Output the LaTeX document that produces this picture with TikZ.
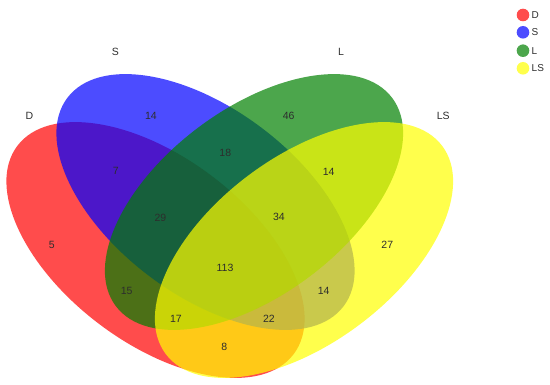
\documentclass[tikz,border=0pt]{standalone}
\usepackage{fontspec}
\setmainfont{Liberation Sans}
\definecolor{vred}{RGB}{255,0,0}
\definecolor{vblue}{RGB}{0,0,255}
\definecolor{vgreen}{RGB}{0,128,0}
\definecolor{vyellow}{RGB}{255,255,0}
\definecolor{txt}{RGB}{45,45,45}
\tikzset{
  setfill/.style={fill opacity=0.7},
  num/.style={text=txt, font=\fontsize{10.5}{12}\selectfont, inner sep=0pt},
  setlabel/.style={text=txt, font=\fontsize{10.5}{12}\selectfont, inner sep=0pt},
  legdot/.style={circle, minimum size=12.6pt, inner sep=0pt, fill opacity=0.7},
  legtext/.style={text=txt, font=\fontsize{10}{12}\selectfont, inner sep=0pt, anchor=west}
}
\begin{document}
\begin{tikzpicture}[x=1pt,y=-1pt]
\useasboundingbox (0,0) rectangle (550,385);
% ellipses
\fill[vred, setfill, rotate around={-37:(155.5,250)}] (155.5,250) ellipse [x radius=173pt, y radius=93pt];
\fill[vblue, setfill, rotate around={-37:(205.5,202)}] (205.5,202) ellipse [x radius=173pt, y radius=93pt];
\fill[vgreen, setfill, rotate around={37:(254,202)}] (254,202) ellipse [x radius=173pt, y radius=93pt];
\fill[vyellow, setfill, rotate around={37:(304,250)}] (304,250) ellipse [x radius=173pt, y radius=93pt];
% set labels
\node[setlabel] (lD) at (29.3,116) {D};
\node[setlabel] (lS) at (115.4,52) {S};
\node[setlabel] (lL) at (341,52) {L};
\node[setlabel] (lLS) at (443.3,116) {LS};
% counts
\node[num] (nS) at (151,116) {14};
\node[num] (nL) at (288.7,116) {46};
\node[num] (nSL) at (225.3,152.7) {18};
\node[num] (nDS) at (115.7,171) {7};
\node[num] (nLLS) at (328.7,171.7) {14};
\node[num] (nDSL) at (160.4,217.7) {29};
\node[num] (nSLLS) at (279,216.7) {34};
\node[num] (nD) at (51.7,245) {5};
\node[num] (nLS) at (387.3,245) {27};
\node[num] (nAll) at (225,268.3) {113};
\node[num] (nDL) at (126.7,291) {15};
\node[num] (nSLS) at (323.7,291) {14};
\node[num] (nDLLS) at (176,319) {17};
\node[num] (nDSLS) at (269,319) {22};
\node[num] (nDLS) at (224.3,346.7) {8};
% legend
\node[legdot, fill=vred] (gD) at (523,15) {};
\node[legdot, fill=vblue] (gS) at (523,32.3) {};
\node[legdot, fill=vgreen] (gL) at (523,50.7) {};
\node[legdot, fill=vyellow] (gLS) at (523,68.3) {};
\node[legtext] (tD) at (531.5,15) {D};
\node[legtext] (tS) at (531.5,32.3) {S};
\node[legtext] (tL) at (531.5,50.7) {L};
\node[legtext] (tLS) at (531.5,68.3) {LS};
\end{tikzpicture}
\end{document}
